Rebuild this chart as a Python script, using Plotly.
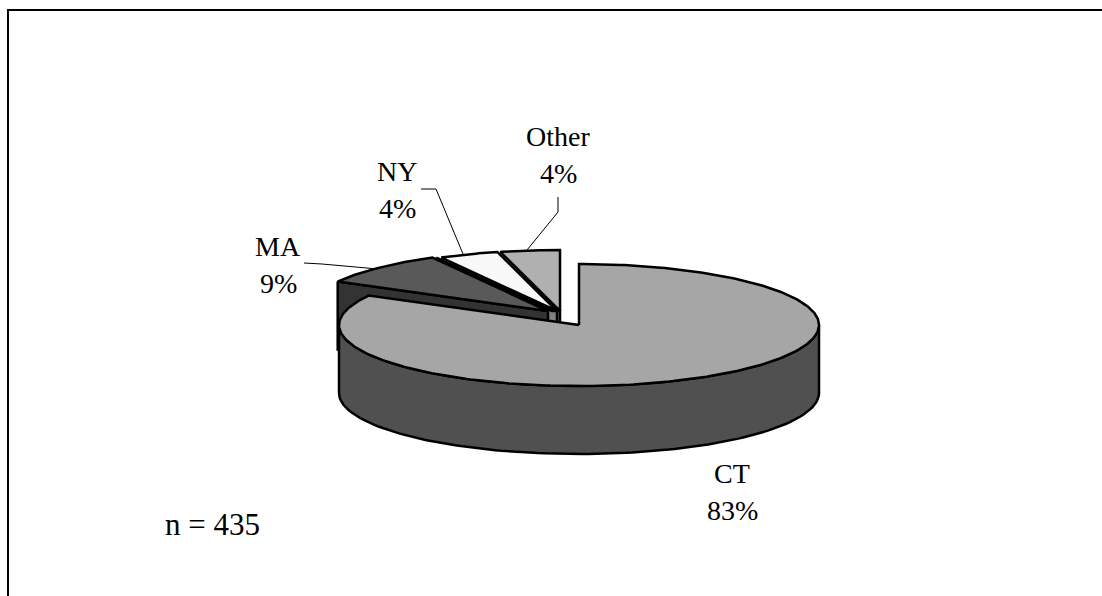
import numpy as np
import plotly.graph_objects as go

categories = ["CT", "MA", "NY", "Other"]
values = [83, 9, 4, 4]
sample_note = "n = 435"

top_colors = {"CT": "#A6A6A6", "MA": "#595959", "NY": "#F8F8F8", "Other": "#B0B0B0"}
side_colors = {"CT": "#505050", "MA": "#333333", "NY": "#808080", "Other": "#6A6A6A"}
centers = {"CT": (579, 325), "MA": (548, 311), "NY": (557, 311), "Other": (560, 311)}
face_shift = {"MA": 0, "NY": -5, "Other": -4}
RX, RY, DEPTH = 240, 61, 68
LW = 2.5
SERIF = "Liberation Serif, Times New Roman, serif"
FONT = dict(family=SERIF, size=28, color="#000000")
NOTE_FONT = dict(family=SERIF, size=31, color="#000000")

# Wedge angles come from the values (clockwise from 12 o'clock)
cum = np.cumsum([0] + values) / sum(values) * 2 * np.pi
angles = {c: (cum[i], cum[i + 1]) for i, c in enumerate(categories)}


def rim(center, a0, a1, n=120):
    t = np.linspace(a0, a1, n)
    return center[0] + RX * np.sin(t), center[1] - RY * np.cos(t)


def poly(x, y, fill):
    return go.Scatter(
        x=list(x), y=list(y), mode="lines", fill="toself", fillcolor=fill,
        line=dict(color="#000000", width=LW), hoverinfo="skip", showlegend=False,
    )


fig = go.Figure()

# Exploded wedges, back to front: cut face, then top surface
for name in ["Other", "NY", "MA"]:
    c = centers[name]
    s = face_shift[name]
    a0, a1 = angles[name]
    rx0, ry0 = rim(c, a0, a0, 1)
    fx = [rx0[0] + s, c[0] + s, c[0], c[0], rx0[0] + s, rx0[0] + s]
    fy = [ry0[0], c[1], c[1], c[1] + DEPTH, ry0[0] + DEPTH, ry0[0]]
    fig.add_trace(poly(fx, fy, side_colors[name]))
    ex, ey = rim(c, a0, a1)
    fig.add_trace(poly([c[0], *ex, c[0]], [c[1], *ey, c[1]], top_colors[name]))

# Main wedge: outer wall, then top surface
c = centers["CT"]
wx, wy = rim(c, np.pi / 2, 3 * np.pi / 2)
fig.add_trace(poly([*wx, *wx[::-1], wx[0]], [*wy, *(wy[::-1] + DEPTH), wy[0]], side_colors["CT"]))
a0, a1 = angles["CT"]
ex, ey = rim(c, a0, a1, 300)
fig.add_trace(poly([c[0], *ex, c[0]], [c[1], *ey, c[1]], top_colors["CT"]))

# Leader lines
leaders = [
    ([304, 322, 378], [263, 264, 269]),
    ([421, 436, 463], [189, 189, 254]),
    ([558, 558, 527], [197, 212, 250]),
]
for lx, ly in leaders:
    fig.add_trace(go.Scatter(x=lx, y=ly, mode="lines", line=dict(color="#000000", width=1),
                             hoverinfo="skip", showlegend=False))

# Frame (runs off the right and bottom of the picture)
fig.add_trace(go.Scatter(x=[1102, 8, 8], y=[10, 10, 596], mode="lines",
                         line=dict(color="#000000", width=2), hoverinfo="skip", showlegend=False))

label_pos = {"CT": (732, 473, 510), "MA": (278, 246, 283), "NY": (397, 171, 208), "Other": (558, 136, 173)}
annotations = []
for name, val in zip(categories, values):
    x, y1, y2 = label_pos[name]
    for txt, y in ((name, y1), (f"{val}%", y2)):
        annotations.append(dict(x=x, y=y, text=txt, showarrow=False, xanchor="center",
                                yanchor="middle", font=FONT))
annotations.append(dict(x=163, y=524, text=sample_note, showarrow=False, xanchor="left",
                        yanchor="middle", font=NOTE_FONT))

fig.update_layout(
    width=1102, height=596, margin=dict(l=0, r=0, t=0, b=0),
    paper_bgcolor="#FFFFFF", plot_bgcolor="#FFFFFF", showlegend=False,
    xaxis=dict(range=[0, 1102], visible=False, fixedrange=True),
    yaxis=dict(range=[596, 0], visible=False, fixedrange=True),
    annotations=annotations,
)
fig.write_html("out.html", config={"displayModeBar": False},
               post_script="document.body.style.margin='0';document.body.style.overflow='hidden';")
